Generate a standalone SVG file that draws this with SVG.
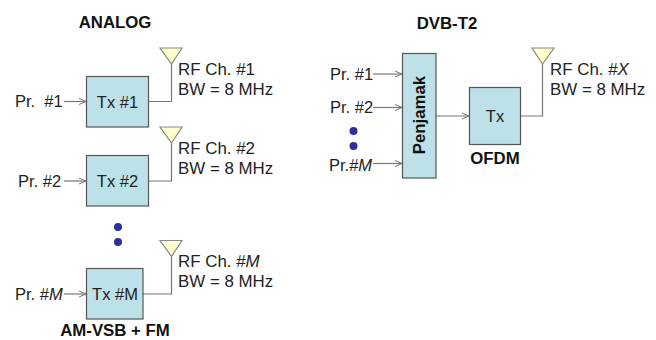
<svg xmlns="http://www.w3.org/2000/svg" width="656" height="340" viewBox="0 0 656 340">
<style>
text{font-family:"Liberation Sans",Arial,sans-serif;font-size:16.5px;fill:#222}
.b{font-weight:bold;font-size:16.8px;fill:#111}
.r{font-size:16.9px}
.m{text-anchor:middle}
.i{font-style:italic}
.box{fill:#bde1e8;stroke:#555;stroke-width:1.2}
.ant{fill:#ffffcc;stroke:#888;stroke-width:1.2}
.c{fill:none;stroke:#777;stroke-width:1.2}
.a{marker-end:url(#arr)}
.dot{fill:#2e3192}
</style>
<defs>
<marker id="arr" markerWidth="9" markerHeight="8" refX="8" refY="4" orient="auto" markerUnits="userSpaceOnUse">
<path d="M1 1L8 4L1 7" fill="none" stroke="#777" stroke-width="1"/>
</marker>
</defs>
<g id="connectors">
<path class="c a" d="M64 101.500H86"/>
<path class="c" d="M149 101.500H171.500V62"/>
<path class="c a" d="M64 181H86"/>
<path class="c" d="M149 181H171.500V141"/>
<path class="c a" d="M64 294H86"/>
<path class="c" d="M143 294H171.500V256"/>
<path class="c a" d="M373 74H402"/>
<path class="c a" d="M373 107.500H402"/>
<path class="c a" d="M373 163.500H402"/>
<path class="c a" d="M436 116H469"/>
<path class="c" d="M520 116H542.500V62"/>
</g>
<text class="b m" x="115" y="28">ANALOG</text>
<text class="b m" x="447" y="29">DVB-T2</text>
<g id="tx1"><rect class="box" x="86.500" y="76.500" width="62" height="50.500"/><text class="m" x="117.500" y="107.500">Tx #1</text></g>
<g id="tx2"><rect class="box" x="86.500" y="155.500" width="62" height="50.500"/><text class="m" x="117.500" y="187">Tx #2</text></g>
<g id="txm"><rect class="box" x="86.500" y="268.500" width="56.500" height="50.500"/><text class="m" x="115" y="300">Tx #M</text></g>
<g id="mux"><rect class="box" x="402.500" y="53.500" width="33.500" height="124.500"/><text class="b m" transform="translate(425 115) rotate(-90)">Penjamak</text></g>
<g id="tx"><rect class="box" x="469.500" y="87.500" width="51" height="57"/><text class="m" x="495" y="122">Tx</text></g>
<g id="ant1"><path class="ant" d="M160 48H182L171.500 64Z"/></g>
<g id="ant2"><path class="ant" d="M160 127H182L171.500 143Z"/></g>
<g id="antm"><path class="ant" d="M160 240.500H182L171.500 256.500Z"/></g>
<g id="antx"><path class="ant" d="M532 48H554L542.500 64Z"/></g>
<g id="labels">
<text x="15" y="107" xml:space="preserve">Pr.  #1</text>
<text x="18" y="186.500">Pr. #2</text>
<text x="15" y="300">Pr. #<tspan class="i">M</tspan></text>
<text class="r" x="178" y="75">RF Ch. #1</text>
<text class="r" x="178" y="95">BW = 8 MHz</text>
<text class="r" x="178" y="154">RF Ch. #2</text>
<text class="r" x="178" y="174">BW = 8 MHz</text>
<text class="r" x="178" y="266.500">RF Ch. #<tspan class="i">M</tspan></text>
<text class="r" x="178" y="287">BW = 8 MHz</text>
<text x="330" y="80">Pr. #1</text>
<text x="330" y="113">Pr. #2</text>
<text x="329" y="171">Pr.#<tspan class="i">M</tspan></text>
<text class="r" x="550" y="75">RF Ch. #<tspan class="i">X</tspan></text>
<text class="r" x="550" y="95">BW = 8 MHz</text>
<text class="b m" x="115" y="336">AM-VSB + FM</text>
<text class="b m" x="495" y="164">OFDM</text>
</g>
<g id="dots">
<circle class="dot" cx="118" cy="227" r="4"/>
<circle class="dot" cx="118" cy="242" r="4"/>
<circle class="dot" cx="353.500" cy="131" r="4"/>
<circle class="dot" cx="353.500" cy="146" r="4"/>
</g>
</svg>
